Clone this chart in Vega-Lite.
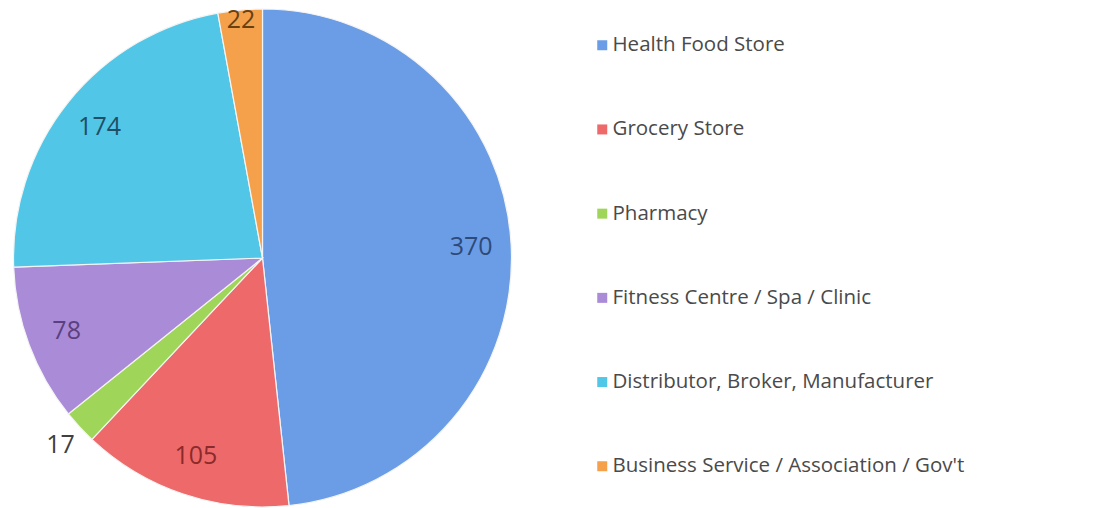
{
  "$schema": "https://vega.github.io/schema/vega-lite/v6.json",
  "width": 525,
  "height": 516,
  "padding": {"left": 0, "top": 0, "right": 580, "bottom": 0},
  "autosize": {"type": "none"},
  "background": "white",
  "view": {"stroke": null},
  "data": {
    "values": [
      {"category": "Health Food Store", "count": 370, "order": 1},
      {"category": "Grocery Store", "count": 105, "order": 2},
      {"category": "Pharmacy", "count": 17, "order": 3},
      {"category": "Fitness Centre / Spa / Clinic", "count": 78, "order": 4},
      {"category": "Distributor, Broker, Manufacturer", "count": 174, "order": 5},
      {"category": "Business Service / Association / Gov't", "count": 22, "order": 6}
    ]
  },
  "encoding": {
    "theta": {"field": "count", "type": "quantitative", "stack": true},
    "order": {"field": "order", "type": "quantitative"}
  },
  "layer": [
    {
      "mark": {"type": "arc", "outerRadius": 249, "stroke": "#f4f4f4", "strokeWidth": 1.2},
      "encoding": {
        "color": {
          "field": "category",
          "type": "nominal",
          "sort": ["Health Food Store", "Grocery Store", "Pharmacy", "Fitness Centre / Spa / Clinic", "Distributor, Broker, Manufacturer", "Business Service / Association / Gov't"],
          "scale": {
            "domain": ["Health Food Store", "Grocery Store", "Pharmacy", "Fitness Centre / Spa / Clinic", "Distributor, Broker, Manufacturer", "Business Service / Association / Gov't"],
            "range": ["#6b9de6", "#ee6a6a", "#9fd65a", "#a98bd8", "#52c6e6", "#f5a04a"]
          },
          "legend": {
            "orient": "none",
            "legendX": 592,
            "legendY": 35,
            "title": null,
            "symbolType": "square",
            "symbolSize": 100,
            "symbolStrokeWidth": 0,
            "labelFont": "Open Sans",
            "labelFontSize": 20.5,
            "labelColor": "#4a4a4a",
            "labelOffset": 0,
            "labelLimit": 500,
            "rowPadding": 63.2
          }
        }
      }
    },
    {
      "mark": {"type": "text", "radius": 209, "font": "Open Sans", "fontSize": 25},
      "encoding": {
        "text": {"condition": {"test": "datum.count == 17 || datum.count == 22", "value": ""}, "field": "count", "type": "quantitative"},
        "color": {
          "field": "category",
          "type": "nominal",
          "scale": {
            "domain": ["Health Food Store", "Grocery Store", "Pharmacy", "Fitness Centre / Spa / Clinic", "Distributor, Broker, Manufacturer", "Business Service / Association / Gov't"],
            "range": ["#2e4a78", "#8a2a2a", "#404040", "#5a4080", "#1f4f66", "#6a4010"]
          },
          "legend": null
        }
      }
    },
    {
      "mark": {"type": "text", "radius": 239, "font": "Open Sans", "fontSize": 25, "color": "#6a4010"},
      "encoding": {
        "text": {"condition": {"test": "datum.count != 22", "value": ""}, "field": "count", "type": "quantitative"}
      }
    },
    {
      "mark": {"type": "text", "radius": 275, "font": "Open Sans", "fontSize": 25, "color": "#404040"},
      "encoding": {
        "text": {"condition": {"test": "datum.count != 17", "value": ""}, "field": "count", "type": "quantitative"}
      }
    }
  ],
  "resolve": {"scale": {"color": "independent"}}
}
